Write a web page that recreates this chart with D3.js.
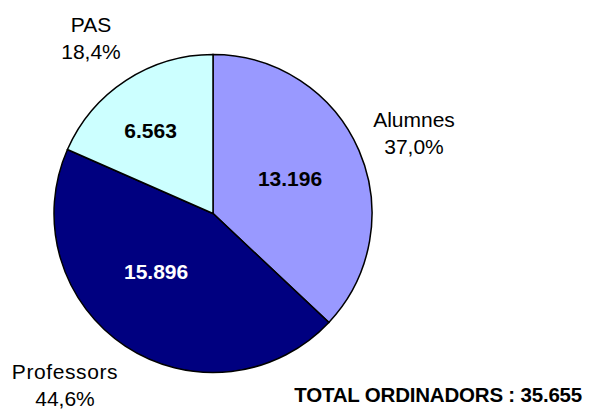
<!DOCTYPE html>
<html>
<head>
<meta charset="utf-8">
<script src="https://cdn.jsdelivr.net/npm/d3@7"></script>
<style>
  body { margin: 0; background: #fff; }
  svg text { font-family: "Liberation Sans", Arial, sans-serif; }
</style>
</head>
<body>
<svg id="chart" width="592" height="410"></svg>
<script>
// chart data
var categories = ['Alumnes', 'Professors', 'PAS'];
var values = [13196, 15896, 6563];
var percentLabels = ['37,0%', '44,6%', '18,4%'];
var valueLabels = ['13.196', '15.896', '6.563'];
var colours = ['#9999ff', '#000080', '#ccffff'];
var totalLabel = 'TOTAL ORDINADORS : 35.655';

var svg = d3.select('#chart');
var cx = 213, cy = 213.5, radius = 159;

var pie = d3.pie().sort(null).value(function(d){ return d; });
var arc = d3.arc().innerRadius(0).outerRadius(radius);
var arcs = pie(values);

var g = svg.append('g').attr('transform', 'translate(' + cx + ',' + cy + ')');

g.selectAll('path.slice')
  .data(arcs)
  .enter().append('path')
  .attr('class', 'slice')
  .attr('d', arc)
  .style('fill', function(d, i){ return colours[i]; })
  .style('stroke', '#000')
  .style('stroke-width', 1.5);

// value labels inside slices (nudged like excel places them)
var innerArc = d3.arc().innerRadius(85).outerRadius(85);
var innerOffsets = [[-1, -1], [-10, -13], [-16, -12]];
g.selectAll('text.val')
  .data(arcs)
  .enter().append('text')
  .attr('class', 'val')
  .attr('x', function(d, i){ return innerArc.centroid(d)[0] + innerOffsets[i][0]; })
  .attr('y', function(d, i){ return innerArc.centroid(d)[1] + innerOffsets[i][1]; })
  .attr('text-anchor', 'middle')
  .attr('dy', '0.36em')
  .style('font-weight', 'bold')
  .style('font-size', '21px')
  .style('fill', function(d, i){ return i == 1 ? '#fff' : '#000'; })
  .text(function(d, i){ return valueLabels[i]; });

// category labels outside
var labelPos = [[414, 127], [65, 379], [91, 32]];
categories.forEach(function(name, i){
  var t = svg.append('text')
    .attr('x', labelPos[i][0])
    .attr('y', labelPos[i][1])
    .attr('text-anchor', 'middle')
    .style('font-size', '21px')
    .style('fill', '#000');
  t.append('tspan').attr('x', labelPos[i][0])
    .style('letter-spacing', i == 1 ? '0.6px' : null)
    .text(name);
  t.append('tspan').attr('x', labelPos[i][0]).attr('dy', 27).text(percentLabels[i]);
});

svg.append('text')
  .attr('x', 582)
  .attr('y', 401.5)
  .attr('text-anchor', 'end')
  .style('font-weight', 'bold')
  .style('font-size', '20.5px')
  .style('letter-spacing', '-0.2px')
  .text(totalLabel);
</script>
</body>
</html>
